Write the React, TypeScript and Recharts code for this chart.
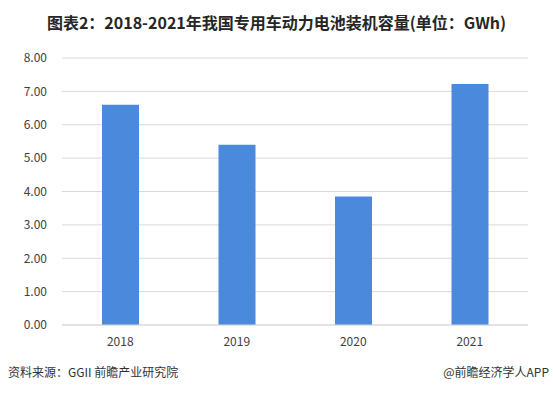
import React from 'react';
import { BarChart, Bar, XAxis, YAxis, CartesianGrid } from 'recharts';

// 数据
const years = ['2018', '2019', '2020', '2021'];
const capacity = [6.6, 5.4, 3.85, 7.22];
const yTicks = [0, 1, 2, 3, 4, 5, 6, 7, 8];

const data = years.map((year, i) => ({ year, value: capacity[i] }));

const FONT = '"Noto Sans CJK SC", "Noto Sans", sans-serif';

export default function App() {
  return (
    <div style={{ position: 'fixed', left: 0, top: 0, width: 553, height: 393, background: '#fff', fontFamily: FONT }}>
      <div
        style={{
          position: 'absolute',
          top: 10,
          left: 0,
          width: 553,
          textAlign: 'center',
          fontSize: 16,
          fontWeight: 700,
          color: '#262626',
          lineHeight: '24px',
        }}
      >
        图表2：2018-2021年我国专用车动力电池装机容量(单位：GWh)
      </div>
      <BarChart
        width={553}
        height={393}
        data={data}
        margin={{ top: 58, right: 25, bottom: 38, left: 0 }}
      >
        <CartesianGrid vertical={false} stroke="#d9d9d9" />
        <XAxis
          dataKey="year"
          height={30}
          tickLine={false}
          axisLine={{ stroke: '#d9d9d9' }}
          tick={{ fontSize: 12, fill: '#404040', fontFamily: FONT }}
          tickMargin={6}
        />
        <YAxis
          width={62}
          domain={[0, 8]}
          ticks={yTicks}
          tickFormatter={(v: number) => v.toFixed(2)}
          tickLine={false}
          axisLine={false}
          tickMargin={9}
          tick={{ fontSize: 12, fill: '#404040', fontFamily: FONT }}
        />
        <Bar dataKey="value" fill="#4a89dc" barSize={37} isAnimationActive={false} />
      </BarChart>
      <div style={{ position: 'absolute', left: 8, top: 363, fontSize: 12, color: '#333' }}>
        资料来源：GGII 前瞻产业研究院
      </div>
      <div style={{ position: 'absolute', right: 4, top: 363, fontSize: 12, color: '#333' }}>
        @前瞻经济学人APP
      </div>
    </div>
  );
}
